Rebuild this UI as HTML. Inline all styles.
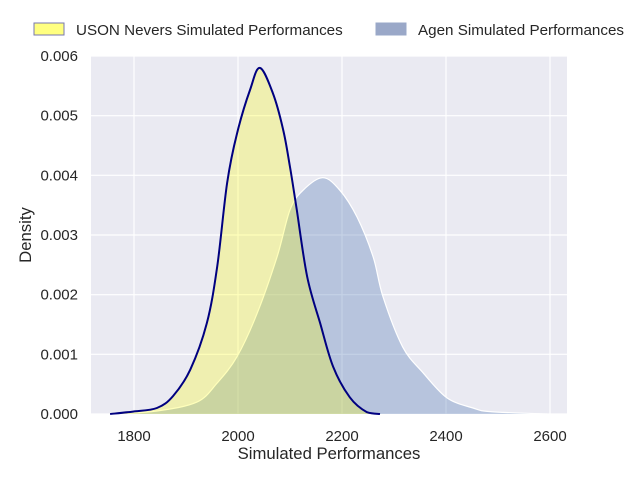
<!DOCTYPE html>
<html><head><meta charset="utf-8"><style>
body{margin:0;background:#fff;font-family:"Liberation Sans","DejaVu Sans",sans-serif;}
</style></head><body>
<svg id="c" width="640" height="480" xmlns="http://www.w3.org/2000/svg" font-family="Liberation Sans, DejaVu Sans, sans-serif"></svg>
<script>
const xTicks=[1800,2000,2200,2400,2600];
const yTicks=[0,0.001,0.002,0.003,0.004,0.005,0.006];
const yTickLabels=["0.000","0.001","0.002","0.003","0.004","0.005","0.006"];
const usonX=[1754,1798,1844,1875,1908,1940,1960,1979,1998,2023,2042,2067,2087,2100,2113,2133,2158,2183,2215,2248,2273];
const usonY=[0,0.00004,0.0001,0.0003,0.00074,0.00152,0.00247,0.00387,0.0047,0.00543,0.0058,0.00538,0.00476,0.00414,0.00342,0.0023,0.00152,0.00079,0.00028,0.00003,0];
const agenX=[1754,1844,1921,1960,1998,2037,2075,2100,2125,2163,2196,2229,2260,2279,2317,2356,2402,2452,2485,2594];
const agenY=[0,0.00005,0.0002,0.00052,0.00096,0.00169,0.00263,0.00342,0.00375,0.00396,0.00375,0.0033,0.00263,0.00196,0.00112,0.00069,0.00027,0.0001,0.00004,0];
const L=91,R=567,T=56,B=414;
const sx=v=>134+(v-1800)/200*104;
const sy=v=>B-(v/0.006)*(B-T);
const svg=document.getElementById('c');
const NS='http://www.w3.org/2000/svg';
function mk(t,a,p){const e=document.createElementNS(NS,t);for(const k in a)e.setAttribute(k,a[k]);(p||svg).appendChild(e);return e;}
const bg=mk('rect',{x:L,y:T,width:R-L,height:B-T,fill:'#eaeaf2'});


xTicks.forEach(v=>{const g=mk('line',{x1:sx(v),x2:sx(v),y1:T,y2:B,stroke:'#fff','stroke-width':1.2});

const t=mk('text',{x:sx(v),y:B+27,'text-anchor':'middle','font-size':15,fill:'#262626'});t.textContent=v;
});
yTicks.forEach((v,i)=>{const g=mk('line',{x1:L,x2:R,y1:sy(v),y2:sy(v),stroke:'#fff','stroke-width':1.2});

const t=mk('text',{x:L-13,y:sy(v)+5,'text-anchor':'end','font-size':15,fill:'#262626'});t.textContent=yTickLabels[i];
});
function path(xs,ys){
  const P=xs.map((x,i)=>[sx(x),sy(ys[i])]);
  let d='M'+P[0][0].toFixed(1)+','+P[0][1].toFixed(1);
  for(let i=0;i<P.length-1;i++){
    const p0=P[i-1]||P[i],p1=P[i],p2=P[i+1],p3=P[i+2]||P[i+1];
    let c1y=p1[1]+(p2[1]-p0[1])/6,c2y=p2[1]-(p3[1]-p1[1])/6;
    c1y=Math.min(c1y,B);c2y=Math.min(c2y,B);
    d+='C'+(p1[0]+(p2[0]-p0[0])/6).toFixed(1)+','+c1y.toFixed(1)+' '+(p2[0]-(p3[0]-p1[0])/6).toFixed(1)+','+c2y.toFixed(1)+' '+p2[0].toFixed(1)+','+p2[1].toFixed(1);
  }
  return d;}
function area(xs,ys){return path(xs,ys)+'L'+sx(xs[xs.length-1]).toFixed(1)+','+B+'L'+sx(xs[0]).toFixed(1)+','+B+'Z';}
const a1=mk('path',{d:area(agenX,agenY),fill:'rgba(76,114,176,0.32)',stroke:'none'});

const l1=mk('path',{d:path(agenX,agenY),fill:'none',stroke:'#fff','stroke-width':1.2,'stroke-linejoin':'round'});

const a2=mk('path',{d:area(usonX,usonY),fill:'rgba(255,255,0,0.27)',stroke:'none'});

const l2=mk('path',{d:path(usonX,usonY),fill:'none',stroke:'#000080','stroke-width':2,'stroke-linejoin':'round'});

const xt=mk('text',{x:329,y:459,'text-anchor':'middle','font-size':16.7,fill:'#262626'});xt.textContent='Simulated Performances';

const yt=mk('text',{x:31,y:235,'text-anchor':'middle','font-size':16.7,fill:'#262626',transform:'rotate(-90 31 235)'});yt.textContent='Density';

const lg=mk('g',{});
const p1=mk('rect',{x:34,y:23,width:30,height:12,fill:'#ffff80',stroke:'#7777b0','stroke-width':1},lg);

const t1=mk('text',{x:76,y:35,'font-size':15.2,fill:'#262626'},lg);t1.textContent='USON Nevers Simulated Performances';

const p2=mk('rect',{x:376,y:23,width:30,height:12,fill:'#9aa8c8',stroke:'#9aa8c8','stroke-width':1},lg);

const t2=mk('text',{x:418,y:35,'font-size':15.2,fill:'#262626'},lg);t2.textContent='Agen Simulated Performances';

</script>
</body></html>
